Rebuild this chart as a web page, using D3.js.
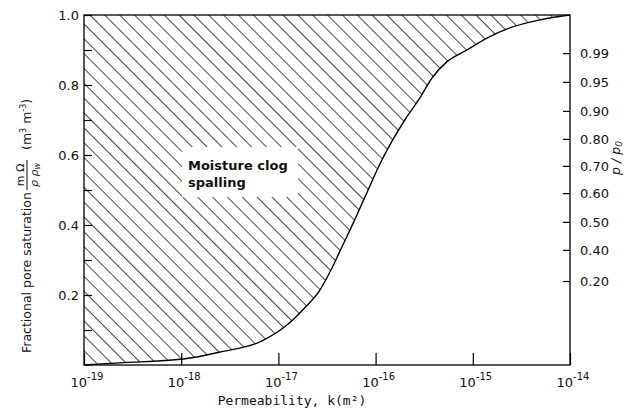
<!DOCTYPE html>
<html><head><meta charset="utf-8">
<script src="https://cdn.jsdelivr.net/npm/d3@7"></script>
<style>body{margin:0;background:#fff}svg{display:block}</style>
</head><body><svg id="c" width="638" height="412"></svg>
<script>
// ---- data ----
const permeability = [1e-19, 2.3e-19, 1.05e-18, 2.5e-18, 6.8e-18, 1.26e-17, 1.86e-17, 2.6e-17, 3.6e-17, 4.6e-17, 5.9e-17, 8.1e-17, 1.12e-16, 1.5e-16, 2.0e-16, 2.9e-16, 3.8e-16, 5.4e-16, 8.7e-16, 1.4e-15, 2.4e-15, 4.9e-15, 1e-14];
const saturation   = [0, 0.006, 0.017, 0.037, 0.069, 0.117, 0.163, 0.209, 0.28, 0.343, 0.406, 0.491, 0.577, 0.643, 0.70, 0.766, 0.82, 0.866, 0.90, 0.934, 0.963, 0.986, 1.0];
const xTickExponents = [-19, -18, -17, -16, -15, -14];
const yTicks = [0.1, 0.2, 0.3, 0.4, 0.5, 0.6, 0.7, 0.8, 0.9, 1.0];
const yTickLabels = ["", "0.2", "", "0.4", "", "0.6", "", "0.8", "", "1.0"];
const rhLabels = ["0.99", "0.95", "0.90", "0.80", "0.70", "0.60", "0.50", "0.40", "0.20"];
const rhSaturation = [0.891, 0.809, 0.726, 0.646, 0.569, 0.491, 0.409, 0.329, 0.240];
const regionLabel = ["Moisture clog", "spalling"];

// ---- layout ----
const L = 84, R = 570, T = 15, B = 365;
const svg = d3.select("#c");
const x = d3.scaleLog().domain([1e-19, 1e-14]).range([L, R]);
const y = d3.scaleLinear().domain([0, 1]).range([B, T]);
const pts = permeability.map((k, i) => ({k, s: saturation[i]}));

const defs = svg.append("defs");
const pat = defs.append("pattern").attr("id", "hatch")
  .attr("patternUnits", "userSpaceOnUse").attr("width", 10.5).attr("height", 10)
  .attr("patternTransform", "rotate(-45)");
pat.append("line").attr("x1", 0).attr("y1", -2).attr("x2", 0).attr("y2", 12)
  .attr("stroke", "#000").attr("stroke-width", 1.4);

// hatched region
const area = d3.area().x(d => x(d.k)).y0(y(1)).y1(d => y(d.s)).curve(d3.curveMonotoneX);
svg.append("path").datum(pts).attr("d", area).attr("fill", "url(#hatch)");

// curve
const line = d3.line().x(d => x(d.k)).y(d => y(d.s)).curve(d3.curveMonotoneX);
svg.append("path").datum(pts).attr("d", line).attr("fill", "none")
  .attr("stroke", "#000").attr("stroke-width", 1.4);

// label box
const lbl = svg.append("g");
lbl.append("rect").attr("x", 182).attr("y", 147).attr("width", 116).attr("height", 50).attr("fill", "#fff");
lbl.selectAll("text").data(regionLabel).join("text")
  .attr("x", 188).attr("y", (d, i) => 170 + i * 17)
  .attr("font-family", "DejaVu Sans").attr("font-weight", "bold").attr("font-size", 13).attr("fill", "#111")
  .text(d => d);

// frame
svg.append("rect").attr("x", L).attr("y", T).attr("width", R - L).attr("height", B - T)
  .attr("fill", "none").attr("stroke", "#000").attr("stroke-width", 1.3);

const font = "DejaVu Sans";
// x axis (ticks inward)
const xTickVals = xTickExponents.map(e => Math.pow(10, e));
const xa = svg.append("g").attr("transform", `translate(0,${B})`)
  .call(d3.axisBottom(x).tickValues(xTickVals).tickSizeInner(-12).tickSizeOuter(0).tickFormat(""));
xa.select(".domain").remove();
xa.selectAll(".tick line").attr("stroke", "#000").attr("stroke-width", 1.2);
const xl = svg.append("g").selectAll("text").data(xTickExponents).join("text")
  .attr("x", e => x(Math.pow(10, e)) + 3).attr("y", 387)
  .attr("text-anchor", "middle").attr("font-family", font).attr("fill", "#111");
xl.append("tspan").attr("font-size", 13).text("10");
xl.append("tspan").attr("font-size", 10).attr("dy", -7).text(e => "-" + Math.abs(e));

svg.append("text").attr("x", 292).attr("y", 405).attr("text-anchor", "middle")
  .attr("font-family", "DejaVu Sans Mono").attr("font-size", 13).attr("fill", "#111")
  .text("Permeability, k(m²)");

// left axis
const ya = svg.append("g").attr("transform", `translate(${L},0)`)
  .call(d3.axisLeft(y).tickValues(yTicks).tickSizeInner(-8).tickSizeOuter(0).tickPadding(5)
    .tickFormat((d, i) => yTickLabels[i]));
ya.select(".domain").remove();
ya.selectAll(".tick line").attr("stroke", "#000").attr("stroke-width", 1.2);
ya.selectAll(".tick text").attr("font-family", font).attr("font-size", 13).attr("fill", "#111");

// right axis
const ra = svg.append("g").attr("transform", `translate(${R},0)`)
  .call(d3.axisRight(y).tickValues(rhSaturation).tickSizeInner(-7).tickSizeOuter(0).tickPadding(10)
    .tickFormat((d, i) => rhLabels[i]));
ra.select(".domain").remove();
ra.selectAll(".tick line").attr("stroke", "#000").attr("stroke-width", 1.2);
ra.selectAll(".tick text").attr("font-family", font).attr("font-size", 13).attr("fill", "#111");

// left title (rotated)
const yt = svg.append("g").attr("transform", "translate(31,365) rotate(-90)")
  .attr("font-family", font).attr("fill", "#111");
yt.append("text").attr("x", 12).attr("y", 0).attr("font-size", 12.5).text("Fractional pore saturation");
yt.append("text").attr("x", 190).attr("y", -7).attr("text-anchor", "middle").attr("font-size", 11).text("m Ω");
yt.append("line").attr("x1", 175).attr("x2", 205).attr("y1", -4).attr("y2", -4).attr("stroke", "#111").attr("stroke-width", 1);
const den = yt.append("text").attr("x", 190).attr("y", 7).attr("text-anchor", "middle").attr("font-size", 11).attr("font-style", "italic");
den.append("tspan").text("ρ ρ");
den.append("tspan").attr("font-size", 8).attr("dy", 2).text("w");
const un = yt.append("text").attr("x", 215).attr("y", 0).attr("font-size", 12.5);
un.append("tspan").text("(m");
un.append("tspan").attr("font-size", 8).attr("dy", -5).text("3");
un.append("tspan").attr("dy", 5).text(" m");
un.append("tspan").attr("font-size", 8).attr("dy", -5).text("-3");
un.append("tspan").attr("dy", 5).text(")");

// right title
const rt = svg.append("text").attr("transform", "translate(620,158) rotate(-90)")
  .attr("text-anchor", "middle").attr("font-family", font).attr("font-style", "italic")
  .attr("font-size", 12.5).attr("fill", "#111");
rt.append("tspan").text("p / p");
rt.append("tspan").attr("font-size", 9).attr("dy", 2).text("0");
</script></body></html>
